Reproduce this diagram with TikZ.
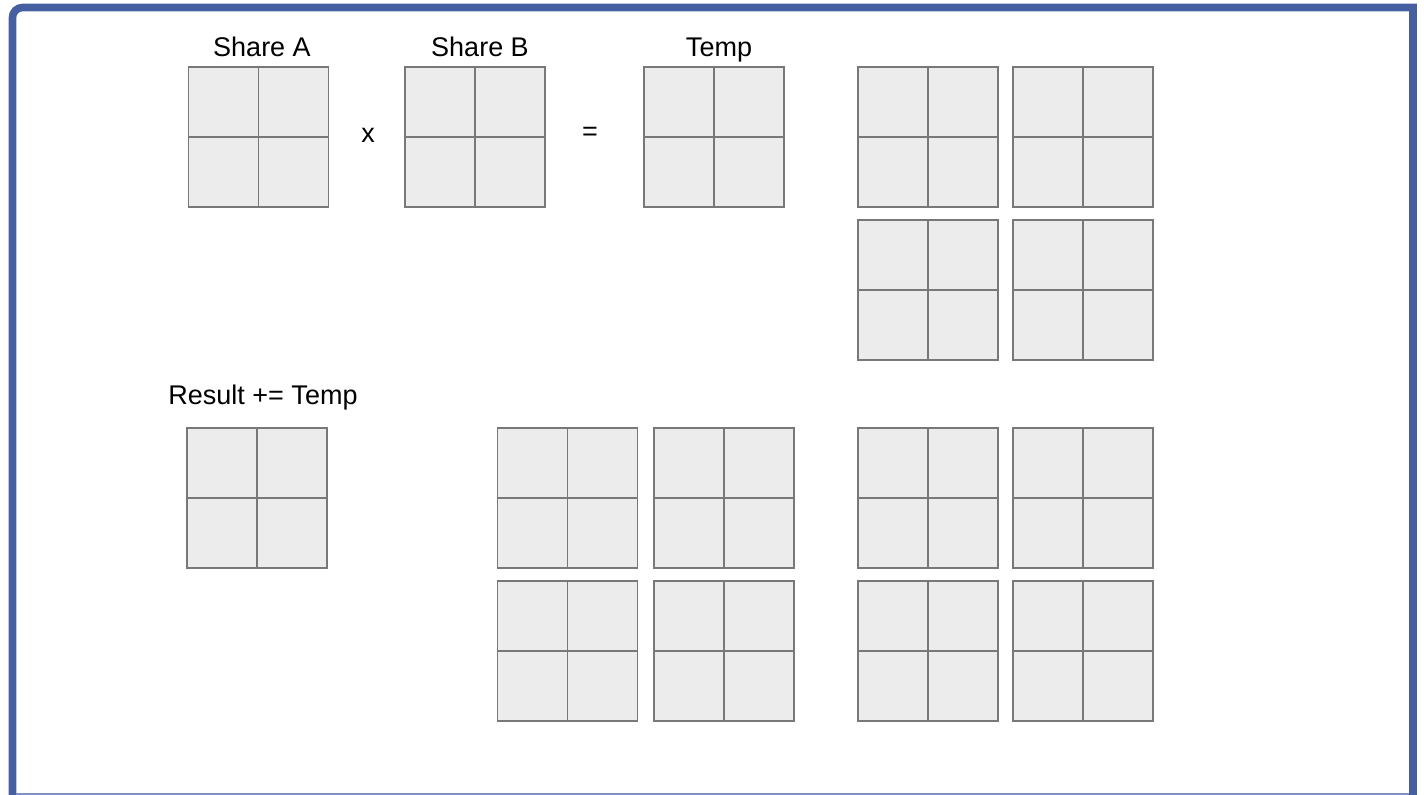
\documentclass[tikz,border=0pt]{standalone}
\usepackage{fontspec}
\setmainfont{Liberation Sans}
\definecolor{frameblue}{RGB}{70,95,160}
\definecolor{framelight}{RGB}{130,145,195}
\definecolor{cellgray}{RGB}{236,236,236}
\definecolor{linegray}{RGB}{120,120,120}
\tikzset{
 mat/.style={draw=linegray,fill=cellgray,line width=0.75pt,minimum size=70pt,inner sep=0pt,
  path picture={\draw[linegray,line width=0.75pt] (path picture bounding box.north) -- (path picture bounding box.south) (path picture bounding box.west) -- (path picture bounding box.east);}},
 lab/.style={font=\fontsize{13.5}{16}\selectfont,inner sep=0pt,anchor=base}
}

\begin{document}
\begin{tikzpicture}[x=0.5pt,y=-0.5pt]
\useasboundingbox (0,0) rectangle (1424,795);
\draw [frameblue,line width=3.8pt] (12.5,800) [rounded corners=5pt] -- (12.5,7.5) [sharp corners] -- (1413,7.5) -- (1413,800);
\draw [framelight,line width=1pt] (16,793.5) -- (1409,793.5);

\node [lab] (LA) at (262,57) {Share A};
 \node [lab] (LB) at (480,57) {Share B};
 \node [lab] (LT) at (719,57) {Temp};
 \node [lab] (LR) at (263,405) {Result += Temp};
\node [lab] (Times) at (368,143) {x};
\node [lab] (Eq) at (590,141) {=};

\node [mat] (A) at (258.5,137) {};
 \node [mat] (B) at (475,137) {};
 \node [mat] (T) at (714,137) {};
 \node [mat] (R) at (257,498) {};

\node [mat] (X1) at (928,137) {};
 \node [mat] (X2) at (1083,137) {};
 \node [mat] (X3) at (928,290) {};
 \node [mat] (X4) at (1083,290) {};

\node [mat] (Y1) at (567.5,498) {};
 \node [mat] (Y2) at (724,498) {};
 \node [mat] (Y3) at (567.5,651) {};
 \node [mat] (Y4) at (724,651) {};

\node [mat] (Z1) at (928,498) {};
 \node [mat] (Z2) at (1083,498) {};
 \node [mat] (Z3) at (928,651) {};
 \node [mat] (Z4) at (1083,651) {};
 \end{tikzpicture}
\end{document}
